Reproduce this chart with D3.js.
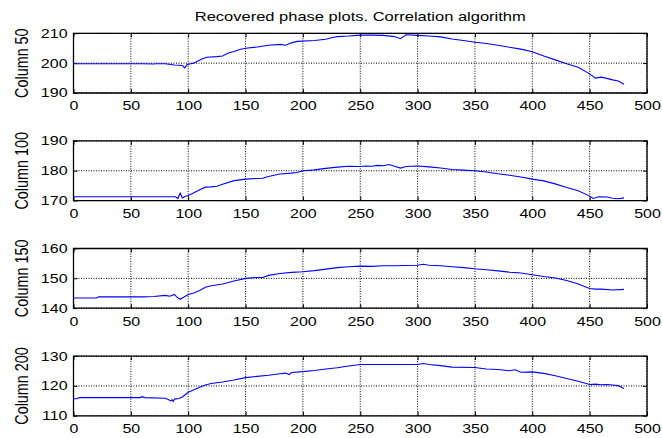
<!DOCTYPE html>
<html>
<head>
<meta charset="utf-8">
<script src="https://cdnjs.cloudflare.com/ajax/libs/d3/7.8.5/d3.min.js"></script>
<style>
  body { margin: 0; background: #fff; }
  svg { display: block; }
  text { font-family: "Liberation Sans", Arial, sans-serif; fill: #000; }
</style>
</head>
<body>
<div id="chart"></div>
<script>
// values (x = sample index, y = phase)
var xTicks = [0, 50, 100, 150, 200, 250, 300, 350, 400, 450, 500];

var col50X = [0,20,40,60,70,72,80,88,92,95,97,99,102,105,108,112,116,125,130,135,140,145,150,160,170,180,185,190,195,210,220,225,230,240,250,260,270,280,285,290,300,310,320,330,340,350,360,370,380,390,400,410,420,430,440,450,455,460,465,470,475,480];
var col50Y = [199.8,199.8,199.8,199.8,199.7,199.8,199.8,199.4,199.3,199.2,198.4,199.5,199.8,200.0,200.6,201.4,202.0,202.2,202.4,203.4,203.9,204.6,205.0,205.4,206.0,206.3,206.0,206.8,207.3,207.6,208.0,208.5,208.9,209.1,209.4,209.4,209.3,208.9,208.2,209.5,209.3,209.1,208.8,208.1,207.6,207.0,206.6,206.0,205.3,204.7,203.8,202.4,201.1,199.8,198.6,196.4,195.0,195.3,194.9,194.4,194.0,192.9];

var col100X = [0,20,40,60,80,89,91,93,95,97,100,105,110,115,120,125,130,140,150,160,165,170,180,190,195,200,210,220,230,240,250,255,260,265,270,275,280,285,290,300,310,320,330,340,350,360,370,380,390,400,410,420,430,440,450,453,458,465,470,475,480];
var col100Y = [171.3,171.3,171.3,171.3,171.3,171.3,170.7,172.5,170.9,171.4,171.7,172.6,173.6,174.5,174.6,174.8,175.5,176.7,177.2,177.4,177.5,178.1,178.9,179.2,179.4,180.0,180.3,180.8,181.2,181.5,181.4,181.6,181.5,181.8,181.7,182.1,181.5,180.9,181.4,181.6,181.3,180.9,180.4,180.2,180.0,179.6,179.0,178.5,177.9,177.2,176.6,175.6,174.4,173.3,171.5,170.7,171.3,171.2,170.8,170.6,170.9];

var col150X = [0,20,22,40,60,70,80,84,88,90,93,96,100,105,110,115,120,130,140,150,160,165,170,180,190,200,210,220,230,240,250,260,270,280,290,300,305,310,320,330,340,350,360,370,380,390,400,410,420,430,440,450,455,460,470,480];
var col150Y = [143.4,143.4,143.8,143.8,143.8,143.9,144.3,144.0,144.6,143.8,143.0,143.7,144.6,145.1,145.9,147.0,147.5,148.1,149.1,150.0,150.3,150.3,151.0,151.6,152.0,152.2,152.6,153.1,153.6,153.9,154.1,154.0,154.2,154.2,154.3,154.4,154.7,154.4,154.2,153.9,153.6,153.2,152.9,152.5,152.1,151.8,151.2,150.6,150.1,149.3,148.1,146.6,146.4,146.4,146.1,146.3];

var col200X = [0,3,5,20,40,58,60,62,80,83,85,86,87,88,92,95,100,105,110,115,120,130,140,150,160,170,180,185,188,190,200,210,220,230,240,250,270,300,305,310,320,330,350,360,370,380,385,390,400,410,420,430,440,450,455,460,465,470,475,480];
var col200Y = [115.7,115.7,116.1,116.1,116.1,116.1,116.4,116.1,115.9,115.4,115.0,115.4,114.8,115.6,115.8,116.3,117.9,118.7,119.6,120.3,120.8,121.3,122.0,122.8,123.2,123.6,124.1,124.3,123.8,124.5,124.8,125.2,125.7,126.1,126.7,127.2,127.2,127.2,127.5,127.2,126.8,126.3,126.2,125.7,125.5,125.1,125.4,124.6,124.7,124.2,123.4,122.5,121.6,120.5,120.6,120.4,120.5,120.3,120.1,119.1];

var labels = ["Column 50", "Column 100", "Column 150", "Column 200"];
var yTicks = [[190, 200, 210], [170, 180, 190], [140, 150, 160], [110, 120, 130]];
var seriesX = [col50X, col100X, col150X, col200X];
var seriesY = [col50Y, col100Y, col150Y, col200Y];

var svgWidth = 662;
var svgHeight = 438;

// the original figure was squeezed vertically, so draw in a taller space and scale down
var SY = 0.8;
var left = 73.5, right = 647;
var firstTop = 33.3, step = 107.6, panelH = 59.7;
var tickLen = 4;

var svg = d3.select("#chart")
  .append("svg")
  .attr("width", svgWidth)
  .attr("height", svgHeight);

var root = svg.append("g")
  .attr("transform", `scale(1, ${SY})`);

root.append("text")
  .attr("x", (left + right) / 2)
  .attr("y", 21 / SY)
  .attr("text-anchor", "middle")
  .attr("font-size", "16.5px")
  .text("Recovered phase plots. Correlation algorithm");

var x = d3.scaleLinear().domain([0, 500]).range([left, right]);

labels.forEach(function(label, i) {
  var hv = panelH / SY;
  var ticks = yTicks[i];
  var g = root.append("g")
    .attr("transform", `translate(0, ${(firstTop + i * step) / SY})`);

  var y = d3.scaleLinear().domain([ticks[0], ticks[2]]).range([hv, 0]);

  // dotted grid
  g.append("g").selectAll("line.gx")
    .data(xTicks)
    .enter()
    .append("line")
    .attr("x1", d => x(d)).attr("x2", d => x(d))
    .attr("y1", 0).attr("y2", hv)
    .attr("stroke", "#000")
    .attr("stroke-width", 1)
    .attr("stroke-dasharray", "1,1.5")
    .attr("vector-effect", "non-scaling-stroke");

  g.append("g").selectAll("line.gy")
    .data(ticks)
    .enter()
    .append("line")
    .attr("x1", left).attr("x2", right)
    .attr("y1", d => y(d)).attr("y2", d => y(d))
    .attr("stroke", "#000")
    .attr("stroke-width", 1)
    .attr("stroke-dasharray", "1,1.5")
    .attr("vector-effect", "non-scaling-stroke");

  // axes, MATLAB style ticks pointing inward
  var bottom = g.append("g")
    .attr("transform", `translate(0, ${hv})`)
    .call(d3.axisBottom(x).tickValues(xTicks).tickSizeInner(-tickLen / SY).tickSizeOuter(0).tickPadding(10.5));
  var top = g.append("g")
    .call(d3.axisTop(x).tickValues(xTicks).tickSizeInner(-tickLen / SY).tickSizeOuter(0).tickFormat(""));
  var leftAx = g.append("g")
    .attr("transform", `translate(${left}, 0)`)
    .call(d3.axisLeft(y).tickValues(ticks).tickSizeInner(-tickLen).tickSizeOuter(0).tickPadding(6));
  var rightAx = g.append("g")
    .attr("transform", `translate(${right}, 0)`)
    .call(d3.axisRight(y).tickValues(ticks).tickSizeInner(-tickLen).tickSizeOuter(0).tickFormat(""));

  [bottom, top, leftAx, rightAx].forEach(function(ax) {
    ax.select(".domain").remove();
    ax.selectAll("line")
      .attr("stroke", "#000")
      .attr("vector-effect", "non-scaling-stroke");
    ax.selectAll("text")
      .attr("font-size", "16px")
      .attr("font-family", "Liberation Sans, Arial, sans-serif");
  });

  // box
  g.append("rect")
    .attr("x", left).attr("y", 0)
    .attr("width", right - left).attr("height", hv)
    .attr("fill", "none")
    .attr("stroke", "#000")
    .attr("stroke-width", 1.3)
    .attr("vector-effect", "non-scaling-stroke");

  // the curve
  var pts = seriesX[i].map((t, k) => [t, seriesY[i][k]]);
  var line = d3.line()
    .x(d => x(d[0]))
    .y(d => y(d[1]));
  g.append("path")
    .datum(pts)
    .attr("d", line)
    .attr("fill", "none")
    .attr("stroke", "#0000ff")
    .attr("stroke-width", 1.1)
    .attr("vector-effect", "non-scaling-stroke");

  // y label
  g.append("text")
    .attr("transform", `translate(22, ${hv / 2}) rotate(-90)`)
    .attr("text-anchor", "middle")
    .attr("dy", "0.35em")
    .attr("font-size", "18px")
    .text(label);
});
</script>
</body>
</html>
